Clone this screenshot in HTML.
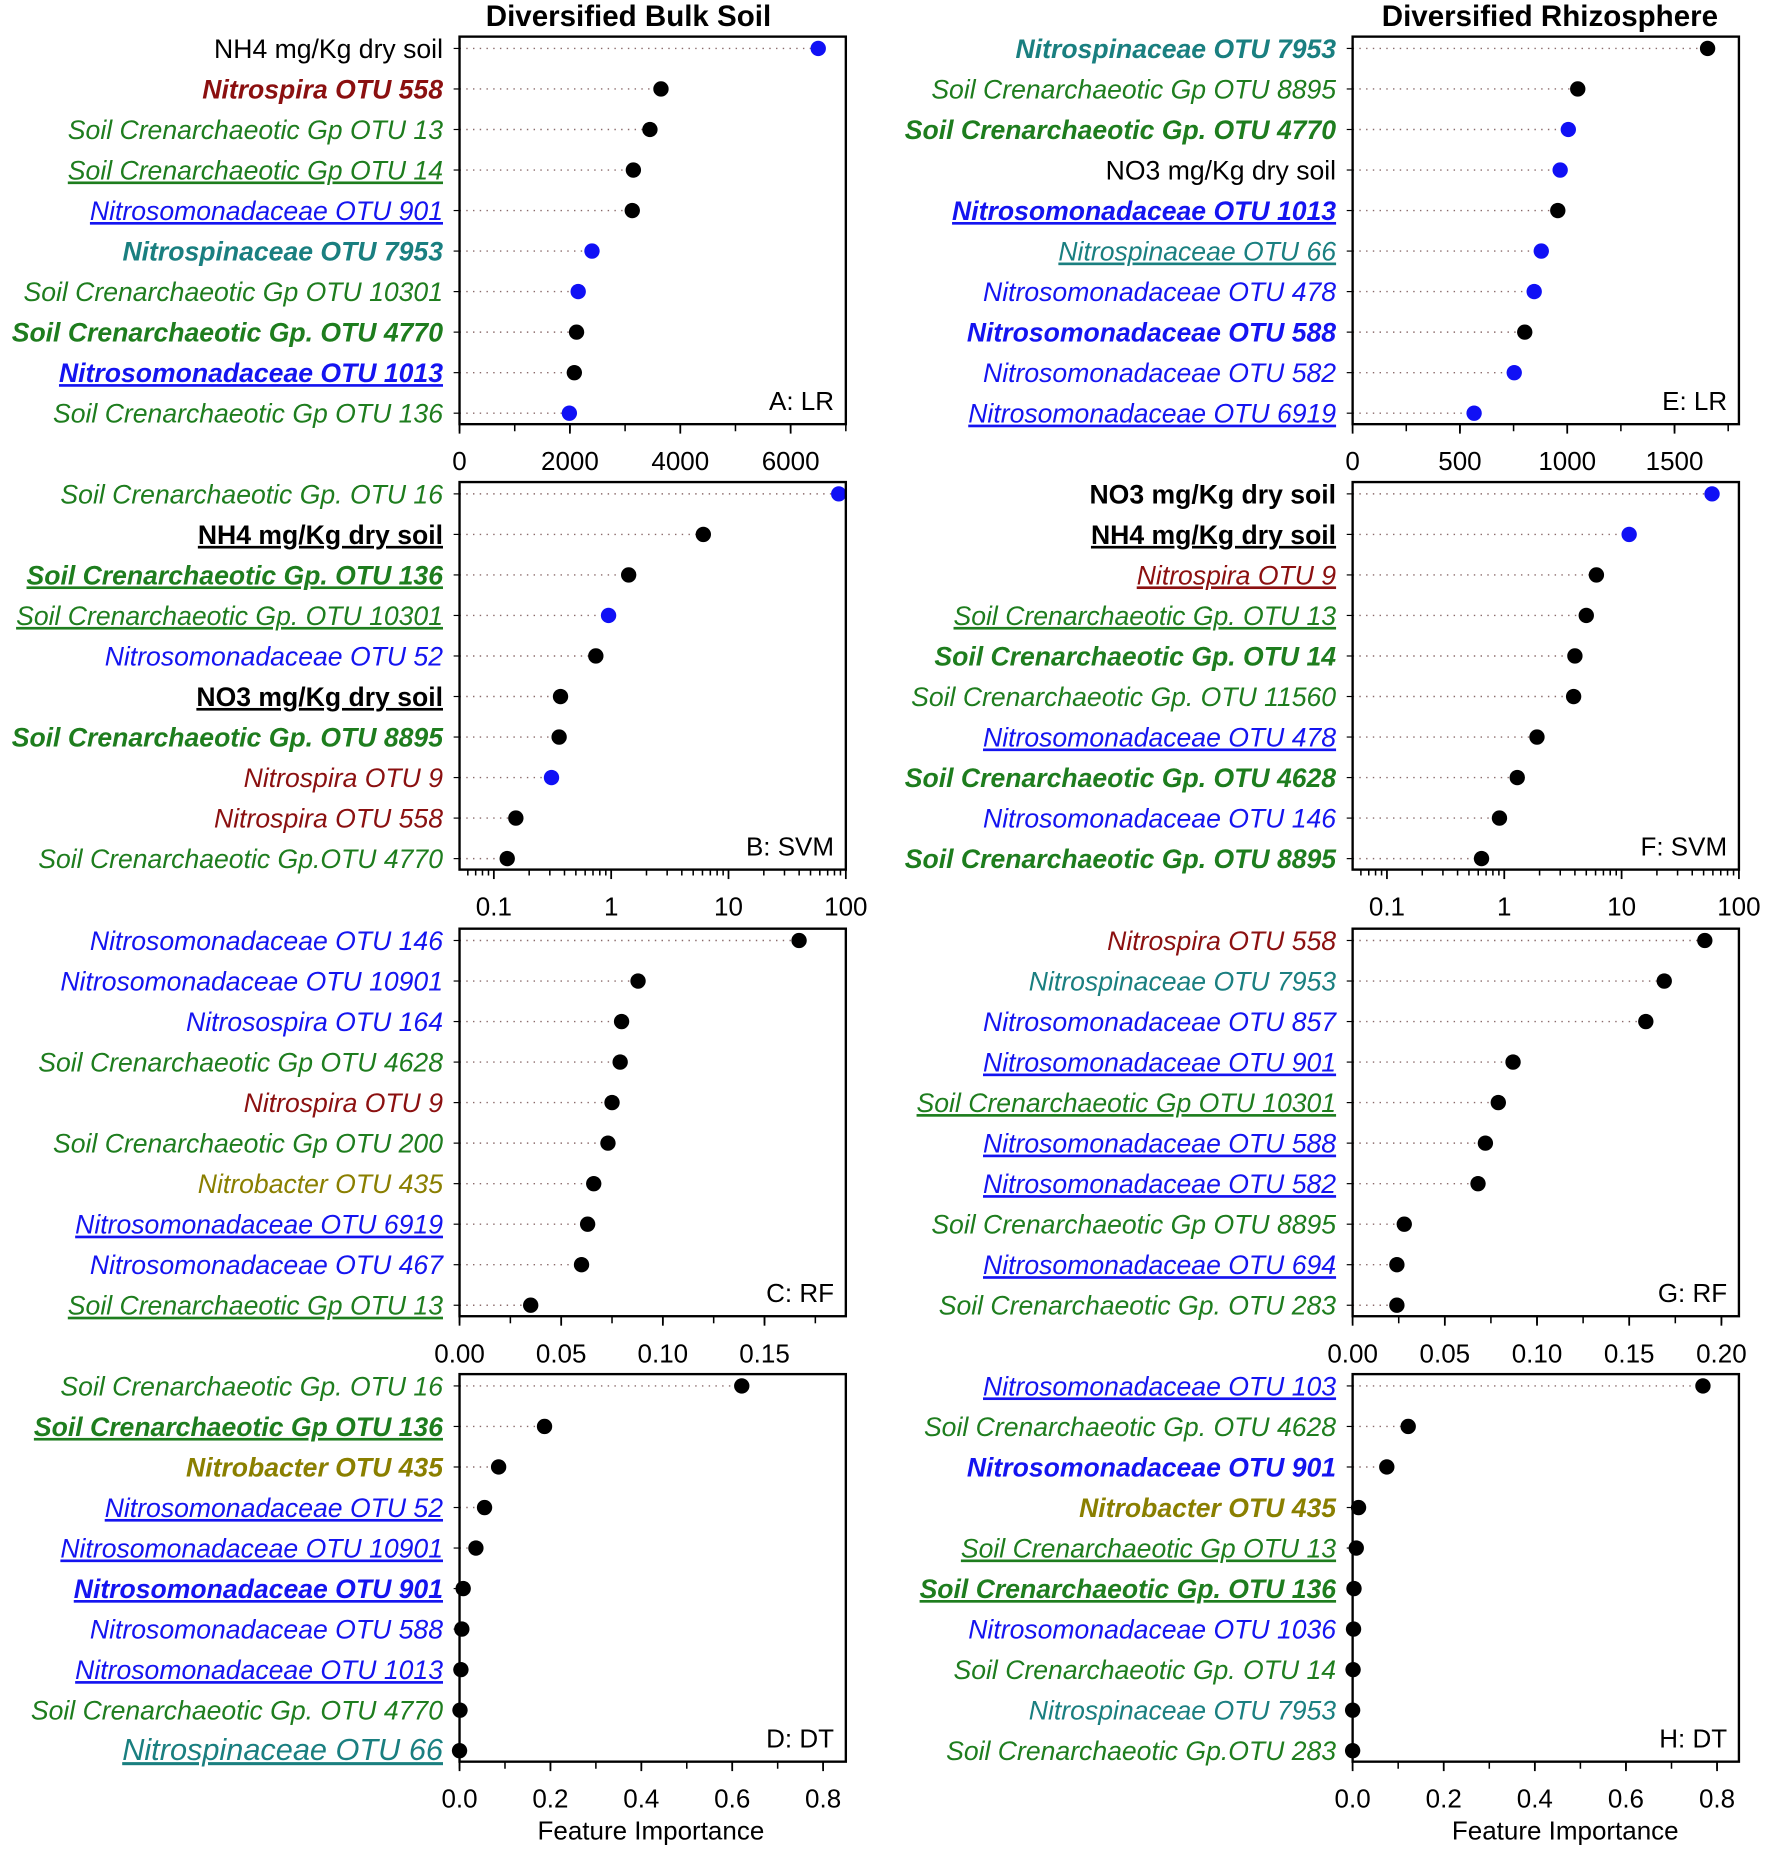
<!DOCTYPE html>
<html><head><meta charset="utf-8"><style>
html,body{margin:0;padding:0;background:#fff;}
svg{display:block;}
text{font-family:"Liberation Sans",Arial,sans-serif;}
</style></head><body>
<svg id="fig" width="1772" height="1855" viewBox="0 0 1500 1570" preserveAspectRatio="none" xmlns="http://www.w3.org/2000/svg">
<text x="532" y="22" text-anchor="middle" font-size="25" font-weight="bold">Diversified Bulk Soil</text>
<text x="1312" y="22" text-anchor="middle" font-size="25" font-weight="bold">Diversified Rhizosphere</text>
<text x="551" y="1557" text-anchor="middle" font-size="22">Feature Importance</text>
<text x="1325" y="1557" text-anchor="middle" font-size="22">Feature Importance</text>
</svg>
<script>
// colors: k black, r darkred, g green, t teal, b blue, o olive ; style: n normal, i italic, bi bold italic, b bold ; u underline
const labelsA = ["NH4 mg/Kg dry soil","Nitrospira OTU 558","Soil Crenarchaeotic Gp OTU 13","Soil Crenarchaeotic Gp OTU 14","Nitrosomonadaceae OTU 901","Nitrospinaceae OTU 7953","Soil Crenarchaeotic Gp OTU 10301","Soil Crenarchaeotic Gp. OTU 4770","Nitrosomonadaceae OTU 1013","Soil Crenarchaeotic Gp OTU 136"];
const stylesA = ["k n","r bi","g i","g i u","b i u","t bi","g i","g bi","b bi u","g i"];
const valuesA = [6500,3650,3450,3150,3130,2400,2150,2120,2080,1990];
const blueA = [1,0,0,0,0,1,1,0,0,1];

const labelsE = ["Nitrospinaceae OTU 7953","Soil Crenarchaeotic Gp OTU 8895","Soil Crenarchaeotic Gp. OTU 4770","NO3 mg/Kg dry soil","Nitrosomonadaceae OTU 1013","Nitrospinaceae OTU 66","Nitrosomonadaceae OTU 478","Nitrosomonadaceae OTU 588","Nitrosomonadaceae OTU 582","Nitrosomonadaceae OTU 6919"];
const stylesE = ["t bi","g i","g bi","k n","b bi u","t i u","b i","b bi","b i","b i u"];
const valuesE = [1654,1049,1005,967,956,879,846,802,753,566];
const blueE = [0,0,1,1,0,1,1,0,1,1];

const labelsB = ["Soil Crenarchaeotic Gp. OTU 16","NH4 mg/Kg dry soil","Soil Crenarchaeotic Gp. OTU 136","Soil Crenarchaeotic Gp. OTU 10301","Nitrosomonadaceae OTU 52","NO3 mg/Kg dry soil","Soil Crenarchaeotic Gp. OTU 8895","Nitrospira OTU 9","Nitrospira OTU 558","Soil Crenarchaeotic Gp.OTU 4770"];
const stylesB = ["g i","k b u","g bi u","g i u","b i","k b u","g bi","r i","r i","g i"];
const valuesB = [87,6.1,1.41,0.95,0.74,0.37,0.36,0.31,0.154,0.13];
const blueB = [1,0,0,1,0,0,0,1,0,0];

const labelsF = ["NO3 mg/Kg dry soil","NH4 mg/Kg dry soil","Nitrospira OTU 9","Soil Crenarchaeotic Gp. OTU 13","Soil Crenarchaeotic Gp. OTU 14","Soil Crenarchaeotic Gp. OTU 11560","Nitrosomonadaceae OTU 478","Soil Crenarchaeotic Gp. OTU 4628","Nitrosomonadaceae OTU 146","Soil Crenarchaeotic Gp. OTU 8895"];
const stylesF = ["k b","k b u","r i u","g i u","g bi","g i","b i u","g bi","b i","g bi"];
const valuesF = [59,11.6,6.1,5.0,4.0,3.9,1.9,1.29,0.91,0.64];
const blueF = [1,1,0,0,0,0,0,0,0,0];

const labelsC = ["Nitrosomonadaceae OTU 146","Nitrosomonadaceae OTU 10901","Nitrosospira OTU 164","Soil Crenarchaeotic Gp OTU 4628","Nitrospira OTU 9","Soil Crenarchaeotic Gp OTU 200","Nitrobacter OTU 435","Nitrosomonadaceae OTU 6919","Nitrosomonadaceae OTU 467","Soil Crenarchaeotic Gp OTU 13"];
const stylesC = ["b i","b i","b i","g i","r i","g i","o i","b i u","b i","g i u"];
const valuesC = [0.167,0.0878,0.0797,0.079,0.075,0.073,0.066,0.063,0.060,0.035];

const labelsG = ["Nitrospira OTU 558","Nitrospinaceae OTU 7953","Nitrosomonadaceae OTU 857","Nitrosomonadaceae OTU 901","Soil Crenarchaeotic Gp OTU 10301","Nitrosomonadaceae OTU 588","Nitrosomonadaceae OTU 582","Soil Crenarchaeotic Gp OTU 8895","Nitrosomonadaceae OTU 694","Soil Crenarchaeotic Gp. OTU 283"];
const stylesG = ["r i","t i","b i","b i u","g i u","b i u","b i u","g i","b i u","g i"];
const valuesG = [0.191,0.169,0.159,0.087,0.079,0.072,0.068,0.028,0.024,0.024];

const labelsD = ["Soil Crenarchaeotic Gp. OTU 16","Soil Crenarchaeotic Gp OTU 136","Nitrobacter OTU 435","Nitrosomonadaceae OTU 52","Nitrosomonadaceae OTU 10901","Nitrosomonadaceae OTU 901","Nitrosomonadaceae OTU 588","Nitrosomonadaceae OTU 1013","Soil Crenarchaeotic Gp. OTU 4770","Nitrospinaceae OTU 66"];
const stylesD = ["g i","g bi u","o bi","b i u","b i u","b bi u","b i","b i u","g i","t i u L"];
const valuesD = [0.621,0.187,0.086,0.055,0.036,0.008,0.005,0.003,0.001,0.0];

const labelsH = ["Nitrosomonadaceae OTU 103","Soil Crenarchaeotic Gp. OTU 4628","Nitrosomonadaceae OTU 901","Nitrobacter OTU 435","Soil Crenarchaeotic Gp OTU 13","Soil Crenarchaeotic Gp. OTU 136","Nitrosomonadaceae OTU 1036","Soil Crenarchaeotic Gp. OTU 14","Nitrospinaceae OTU 7953","Soil Crenarchaeotic Gp.OTU 283"];
const stylesH = ["b i u","g i","b bi","o bi","g i u","g bi u","b i","g i","t i","g i"];
const valuesH = [0.769,0.122,0.075,0.013,0.008,0.003,0.002,0.001,0.0,0.0];

const ticksA=[0,2000,4000,6000], ticksE=[0,500,1000,1500], ticksLog=[0.1,1,10,100];
const tickLabA=["0","2000","4000","6000"], tickLabE=["0","500","1000","1500"], tickLabLog=["0.1","1","10","100"];
const ticksC=[0,0.05,0.10,0.15], tickLabC=["0.00","0.05","0.10","0.15"];
const ticksG=[0,0.05,0.10,0.15,0.20], tickLabG=["0.00","0.05","0.10","0.15","0.20"];
const ticksD=[0,0.2,0.4,0.6,0.8], tickLabD=["0.0","0.2","0.4","0.6","0.8"];

const NS="http://www.w3.org/2000/svg";
const svg=document.getElementById('fig');
const COL={k:"#000",r:"#8b1010",g:"#1e7d1e",t:"#1a7f80",b:"#1414f0",o:"#8a7f00"};
function mk(tag,attrs,parent){const e=document.createElementNS(NS,tag);for(const k in attrs)e.setAttribute(k,attrs[k]);(parent||svg).appendChild(e);return e;}

function panel(o){
  const g=mk('g',{});
  
  
  const x0=o.x0,x1=o.x0+327,y0=o.y0,y1=o.y0+328;
  const sx = o.log ? v=>x0+(Math.log10(v)-Math.log10(o.min))/(Math.log10(o.max)-Math.log10(o.min))*(x1-x0)
                   : v=>x0+(v-o.min)/(o.max-o.min)*(x1-x0);
  const rowY=i=>y0+10+i*34.3;
  o.labels.forEach((lab,i)=>{
    const y=rowY(i), st=o.styles[i].split(' ');
    const t=mk('text',{x:x0-14,y:y+8,'text-anchor':'end','font-size':st.includes('L')?26:22.5,fill:COL[st[0]]},g);
    
    
    if(st[1]==='i'||st[1]==='bi')t.setAttribute('font-style','italic');
    if(st[1]==='b'||st[1]==='bi')t.setAttribute('font-weight','bold');
    if(st.includes('u'))t.setAttribute('text-decoration','underline');
    t.textContent=lab;
    const px=sx(o.values[i]);
    const ln=mk('line',{x1:x0,x2:px,y1:y,y2:y,stroke:'#8a6a6a','stroke-width':1.2,'stroke-dasharray':'1.2 4.5'},g);
    
    
    mk('line',{x1:x0-5,x2:x0,y1:y,y2:y,stroke:'#000','stroke-width':1},g);
    const c=mk('circle',{cx:px,cy:y,r:6.5,fill:(o.blue&&o.blue[i])?'#1010f5':'#000'},g);
    
    
  });
  const fr=mk('rect',{x:x0,y:y0,width:x1-x0,height:y1-y0,fill:'none',stroke:'#000','stroke-width':2},g);
  
  
  o.minor.forEach(v=>{const x=sx(v);if(x<x0-0.5||x>x1+0.5)return;mk('line',{x1:x,x2:x,y1:y1,y2:y1+(o.log?5:6),stroke:'#000','stroke-width':1.3},g);});
  o.ticks.forEach((v,i)=>{const x=sx(v);mk('line',{x1:x,x2:x,y1:y1,y2:y1+8,stroke:'#000','stroke-width':1.5},g);
    const t=mk('text',{x:x,y:y1+39,'text-anchor':'middle','font-size':22},g);
    
    
    t.textContent=o.tickLab[i];});
  const tag=mk('text',{x:x1-10,y:y1-12,'text-anchor':'end','font-size':22},g);
  
  
  tag.textContent=o.tag;
}
const range=(a,b,s)=>{const r=[];for(let v=a;v<=b+1e-9;v+=s)r.push(+v.toFixed(4));return r;};
const logMinor=[];[0.01,0.1,1,10].forEach(d=>{for(let k=2;k<=9;k++)logMinor.push(d*k);});

panel({name:'panel-a-lr-bulk',x0:389,y0:31,min:0,max:7000,labels:labelsA,styles:stylesA,values:valuesA,blue:blueA,ticks:ticksA,tickLab:tickLabA,minor:range(0,7000,1000),tag:'A: LR'});
panel({name:'panel-e-lr-rhizo',x0:1145,y0:31,min:0,max:1800,labels:labelsE,styles:stylesE,values:valuesE,blue:blueE,ticks:ticksE,tickLab:tickLabE,minor:range(0,1750,250),tag:'E: LR'});
panel({name:'panel-b-svm-bulk',x0:389,y0:408,min:0.051,max:100,log:true,labels:labelsB,styles:stylesB,values:valuesB,blue:blueB,ticks:ticksLog,tickLab:tickLabLog,minor:logMinor,tag:'B: SVM'});
panel({name:'panel-f-svm-rhizo',x0:1145,y0:408,min:0.051,max:100,log:true,labels:labelsF,styles:stylesF,values:valuesF,blue:blueF,ticks:ticksLog,tickLab:tickLabLog,minor:logMinor,tag:'F: SVM'});
panel({name:'panel-c-rf-bulk',x0:389,y0:786,min:0,max:0.19,labels:labelsC,styles:stylesC,values:valuesC,ticks:ticksC,tickLab:tickLabC,minor:range(0,0.175,0.025),tag:'C: RF'});
panel({name:'panel-g-rf-rhizo',x0:1145,y0:786,min:0,max:0.2095,labels:labelsG,styles:stylesG,values:valuesG,ticks:ticksG,tickLab:tickLabG,minor:range(0,0.2,0.025),tag:'G: RF'});
panel({name:'panel-d-dt-bulk',x0:389,y0:1163,min:0,max:0.85,labels:labelsD,styles:stylesD,values:valuesD,ticks:ticksD,tickLab:tickLabD,minor:range(0,0.8,0.1),tag:'D: DT'});
panel({name:'panel-h-dt-rhizo',x0:1145,y0:1163,min:0,max:0.848,labels:labelsH,styles:stylesH,values:valuesH,ticks:ticksD,tickLab:tickLabD,minor:range(0,0.8,0.1),tag:'H: DT'});
</script>
</body></html>
